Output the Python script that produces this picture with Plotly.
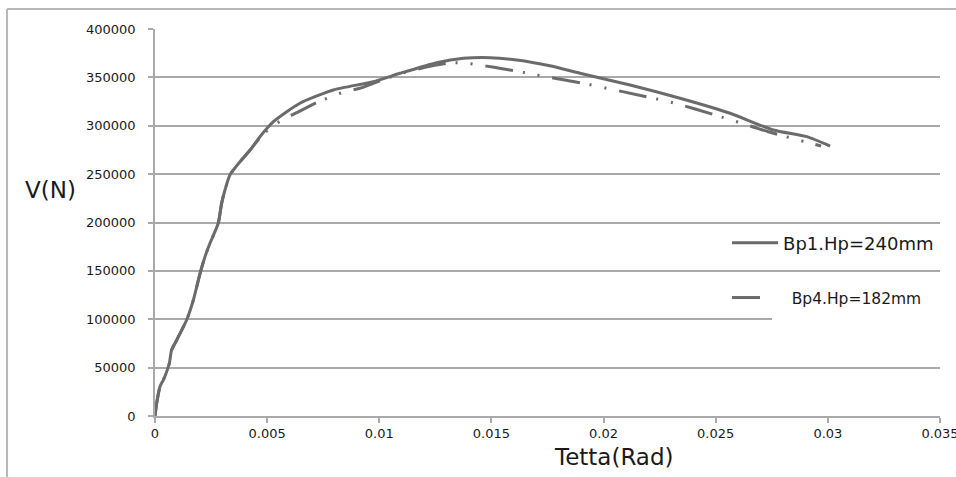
import plotly.graph_objects as go

# ---- data ----
bp1_theta = [0, 0.000075, 0.00022, 0.00037, 0.00052, 0.00064, 0.00074, 0.00097, 0.00141,
             0.00171, 0.00201, 0.00223, 0.00245, 0.00282, 0.00297, 0.00312, 0.00334, 0.00379,
             0.00424, 0.00468, 0.00528, 0.00646, 0.00795, 0.00973, 0.01092, 0.01256, 0.01375,
             0.01494, 0.01613, 0.0176, 0.01895, 0.02118, 0.02341, 0.02564, 0.02757, 0.02906, 0.0301]
bp1_v = [0, 13100, 30300, 37200, 45800, 54500, 68200, 78600, 99200,
         119900, 147500, 164700, 178500, 199200, 219800, 233600, 249100, 262800,
         274900, 288700, 304200, 323200, 337000, 345500, 354200, 365200, 369700,
         370400, 368000, 362000, 354200, 342100, 328400, 312900, 295600, 288700, 279000]

bp4_theta = [0, 0.000075, 0.00022, 0.00037, 0.00052, 0.00064, 0.00074, 0.00097, 0.00141,
             0.00171, 0.00201, 0.00223, 0.00245, 0.00282, 0.00297, 0.00312, 0.00334, 0.00379,
             0.00424, 0.00468, 0.0052, 0.00573, 0.00632, 0.0072, 0.00847, 0.00914, 0.00973,
             0.01077, 0.01204, 0.0132, 0.01389, 0.01445, 0.01512, 0.01583, 0.01701, 0.01895,
             0.0219, 0.0232, 0.02497, 0.02616, 0.02735, 0.02913, 0.0297]
bp4_v = [0, 13100, 30300, 37200, 45800, 54500, 68200, 78600, 99200,
         119900, 147500, 164700, 178500, 199200, 219800, 233600, 249100, 262800,
         274900, 287500, 299000, 306700, 313500, 324000, 335200, 338700, 343900,
         352500, 360400, 365000, 364500, 362800, 360400, 357600, 352500, 344500,
         330000, 323200, 311100, 302500, 293800, 282500, 279000]

series_names = ["Bp1.Hp=240mm", "Bp4.Hp=182mm"]
x_tick_vals = [0, 0.005, 0.01, 0.015, 0.02, 0.025, 0.03, 0.035]
x_tick_text = ["0", "0.005", "0.01", "0.015", "0.02", "0.025", "0.03", "0.035"]
y_tick_vals = [0, 50000, 100000, 150000, 200000, 250000, 300000, 350000, 400000]
y_tick_text = ["0", "50000", "100000", "150000", "200000", "250000", "300000", "350000", "400000"]

LINE = "#6b6b6b"
GRID = "#a9a9a9"
TXT = "#1a1a1a"
FONT = "DejaVu Sans"
NBSP = "\u00a0"

fig = go.Figure()
fig.add_trace(go.Scatter(
    x=bp1_theta, y=bp1_v, name=series_names[0], mode="lines",
    line=dict(color=LINE, width=3, shape="spline", smoothing=0.6),
    legend="legend", showlegend=True))
fig.add_trace(go.Scatter(
    x=bp4_theta, y=bp4_v, name=NBSP * 5 + series_names[1], mode="lines",
    line=dict(color=LINE, width=3, shape="spline", smoothing=0.6,
              dash="28px,10px,2px,13px,2px,13px"),
    legend="legend2", showlegend=True))

fig.update_layout(
    width=956, height=477, autosize=False,
    margin=dict(l=155, r=16, t=29, b=61),
    paper_bgcolor="white", plot_bgcolor="white",
    showlegend=True,
    font=dict(family=FONT, color=TXT),
    xaxis=dict(range=[0, 0.035], tickvals=x_tick_vals, ticktext=x_tick_text,
               showgrid=False, zeroline=False, showline=True, linecolor=GRID, linewidth=1.5,
               ticks="outside", ticklen=5, tickcolor=GRID, tickwidth=1.5,
               ticklabeloverflow="allow", automargin=False,
               tickfont=dict(family=FONT, size=13, color=TXT)),
    yaxis=dict(range=[0, 400000], tickvals=y_tick_vals, ticktext=y_tick_text,
               showgrid=True, gridcolor=GRID, gridwidth=1.5, zeroline=False,
               showline=True, linecolor=GRID, linewidth=1.5,
               ticks="outside", ticklen=5, tickcolor=GRID, tickwidth=1.5,
               ticklabelstandoff=10, automargin=False,
               tickfont=dict(family=FONT, size=13, color=TXT)),
    legend=dict(x=0.7287, y=0.447, xanchor="left", yanchor="middle", visible=True,
                bgcolor="rgba(0,0,0,0)", itemwidth=46,
                font=dict(family=FONT, size=18, color=TXT)),
    legend2=dict(x=0.7287, y=0.305, xanchor="left", yanchor="middle", visible=True,
                 bgcolor="rgba(0,0,0,0)", itemwidth=30,
                 font=dict(family=FONT, size=15.5, color=TXT)),
    shapes=[
        # outer chart frame (top and left edges)
        dict(type="line", xref="paper", yref="paper", x0=-0.1885, x1=1.05, y0=1.0517, y1=1.0517,
             line=dict(color="#b8b8b8", width=2)),
        dict(type="line", xref="paper", yref="paper", x0=-0.1885, x1=-0.1885, y0=1.0517, y1=-0.25,
             line=dict(color="#b8b8b8", width=2)),
        # gridline interrupted by legend area
        dict(type="rect", xref="paper", yref="y", x0=0.786, x1=1.01, y0=96000, y1=104000,
             fillcolor="white", line=dict(width=0), layer="above"),
    ],
    annotations=[
        dict(text="V(N)", xref="paper", yref="paper", x=-0.1325, y=0.585,
             xanchor="center", yanchor="middle", showarrow=False,
             font=dict(family=FONT, size=23, color=TXT)),
        dict(text="Tetta(Rad)", xref="paper", yref="paper", x=0.5847, y=-0.106,
             xanchor="center", yanchor="middle", showarrow=False,
             font=dict(family=FONT, size=23, color=TXT)),
    ],
)

fig.write_html("out.html", config={"displayModeBar": False},
               post_script="document.body.style.margin='0px';")
